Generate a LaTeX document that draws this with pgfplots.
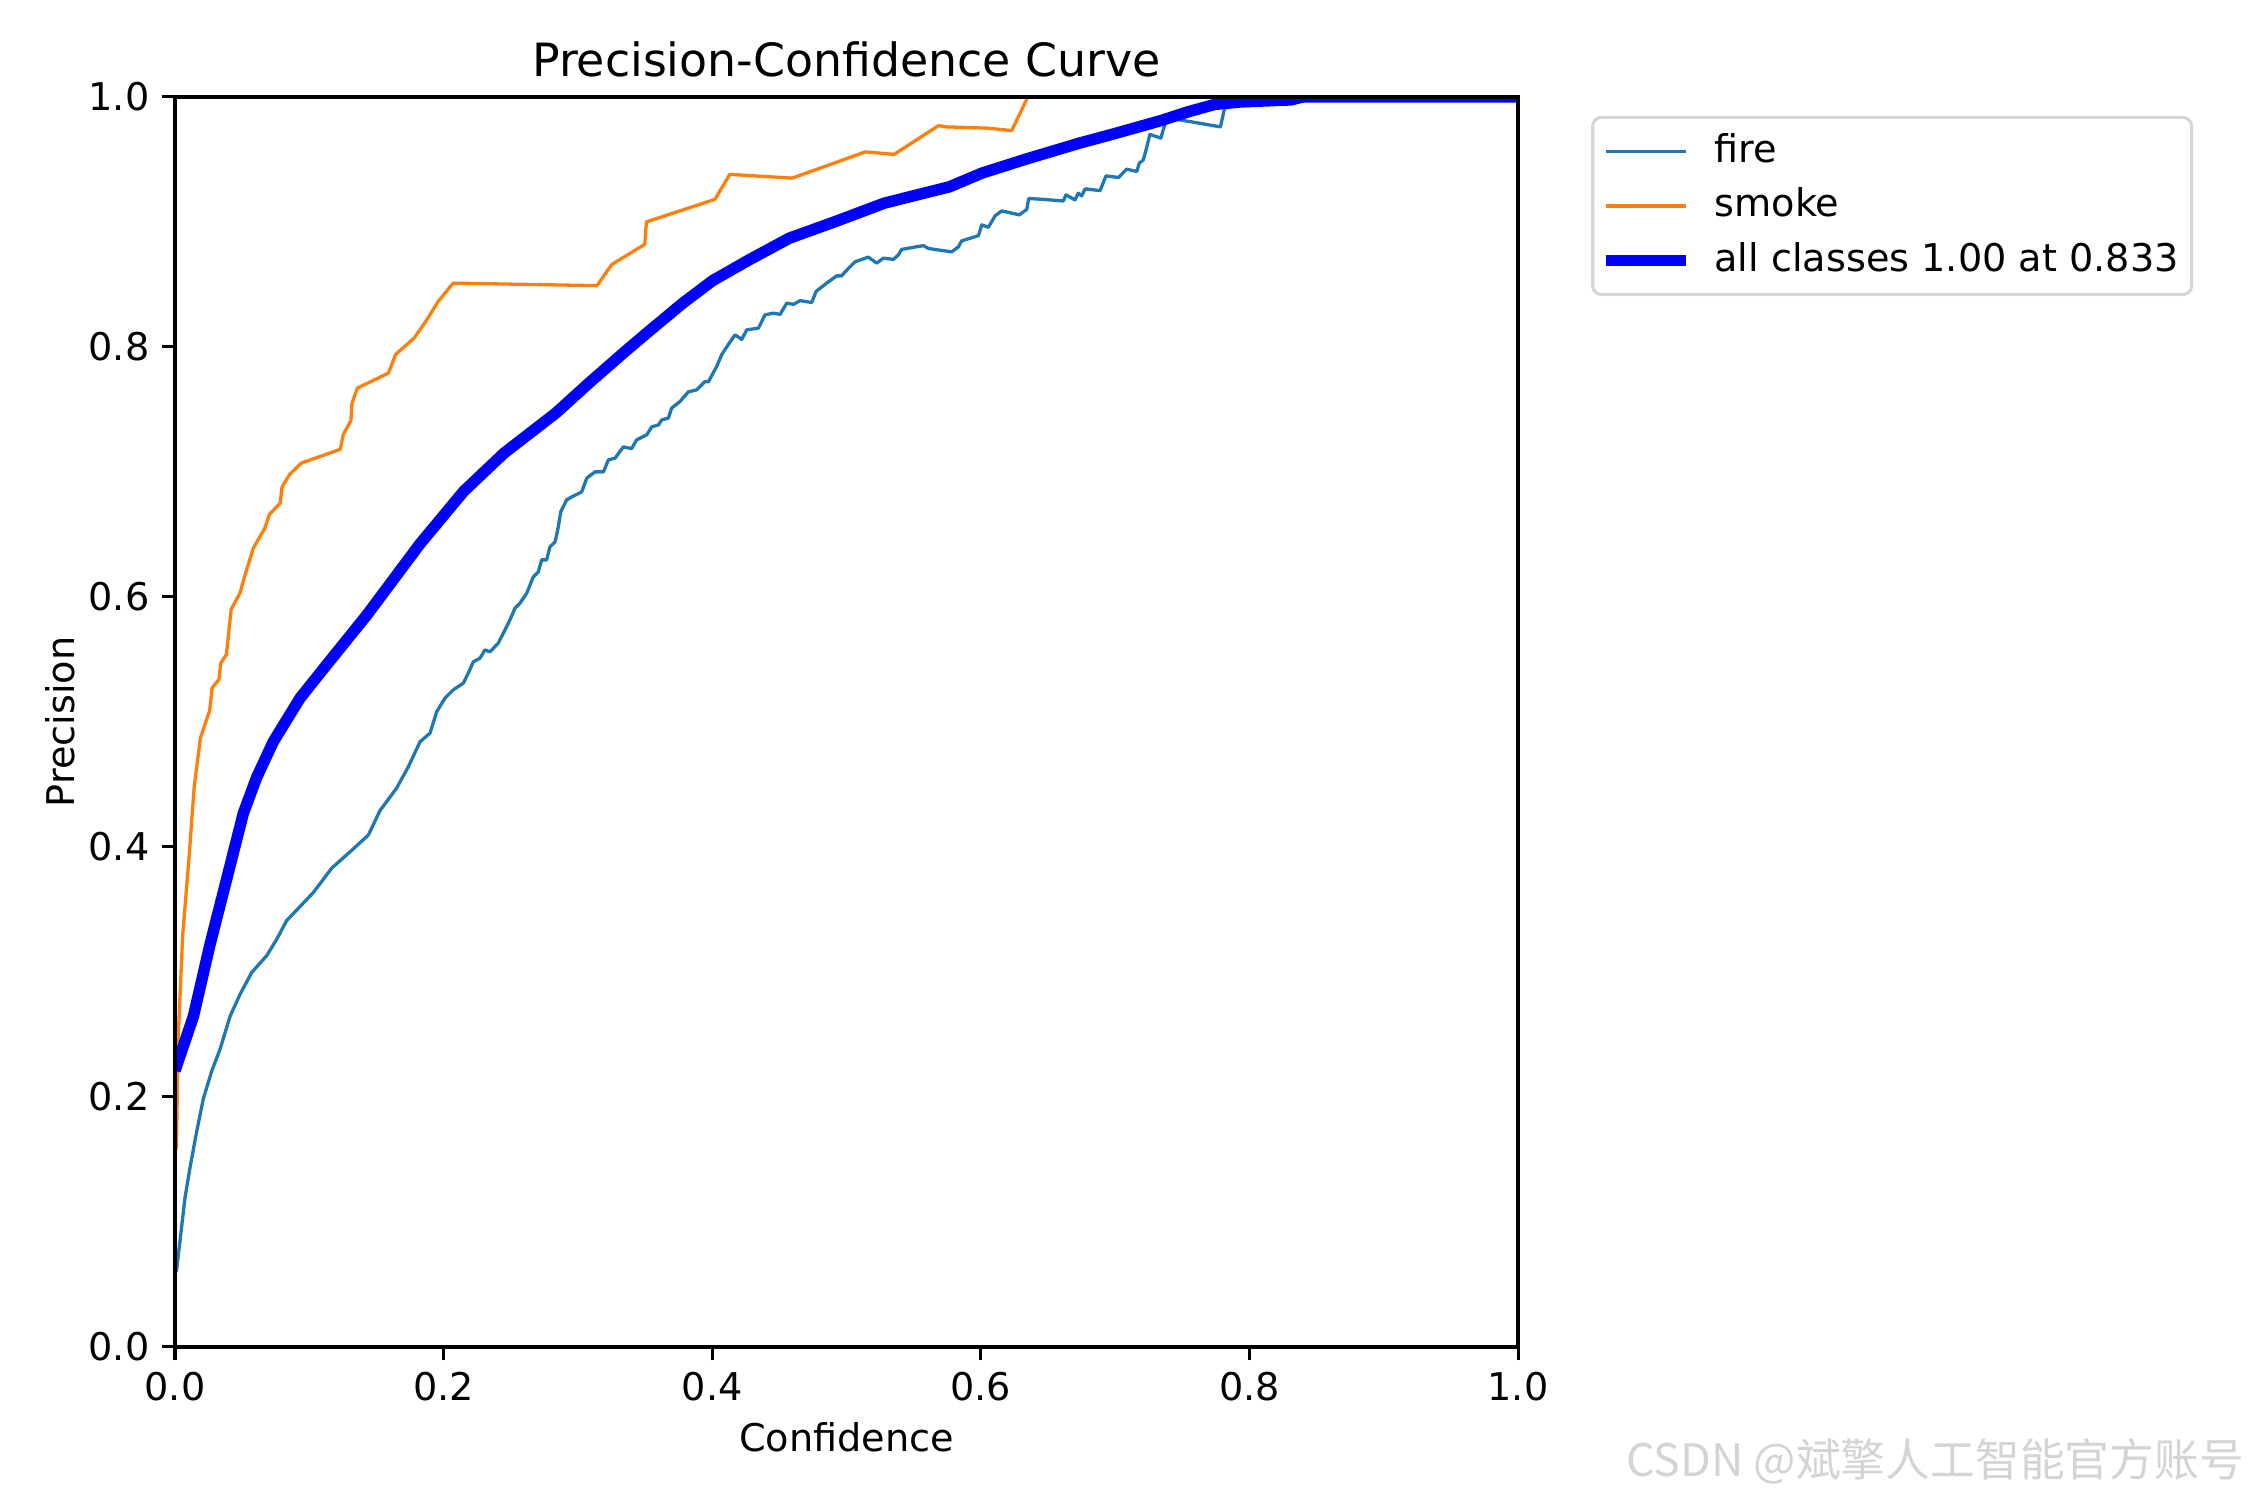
\documentclass[border=0pt]{standalone}
\usepackage{fontspec}
\setmainfont{DejaVu Sans}
\newfontfamily\cjk{Noto Sans CJK SC}
\usepackage{pgfplots}
\pgfplotsset{compat=1.18}
\definecolor{fireblue}{HTML}{1F77B4}
\definecolor{smokeorange}{HTML}{FF7F0E}
\definecolor{allblue}{HTML}{0000FF}
\begin{document}
\begin{tikzpicture}
\path[use as bounding box] (0,0) rectangle (648pt,432pt);
\begin{axis}[
  at={(50.4pt,44.1pt)}, anchor=south west,
  scale only axis, width=386.8pt, height=360pt,
  xmin=0, xmax=1, ymin=0, ymax=1,
  xtick={0,0.2,0.4,0.6,0.8,1.0},
  ytick={0,0.2,0.4,0.6,0.8,1.0},
  /pgf/number format/assume math mode=true,
  xticklabel={\pgfmathprintnumber[fixed,fixed zerofill,precision=1]{\tick}},
  yticklabel={\pgfmathprintnumber[fixed,fixed zerofill,precision=1]{\tick}},
  tick label style={font=\fontsize{11}{13}\selectfont},
  xtick pos=lower, ytick pos=lower,
  tick align=outside,
  major tick length=3.85pt,
  every tick/.style={black, line width=0.9pt},
  axis line style={line width=0.95pt},
  axis on top,
  title={Precision-Confidence Curve},
  title style={font=\fontsize{13.2}{15}\selectfont, at={(axis description cs:0.5,1.0)}, anchor=base},
  xlabel={Confidence},
  xlabel style={font=\fontsize{11}{13}\selectfont, at={(axis description cs:0.5,-0.0833)}, anchor=base},
  ylabel={Precision},
  ylabel style={font=\fontsize{11}{13}\selectfont, at={(axis description cs:-0.0745,0.5)}, anchor=base, rotate=0},
  legend cell align=left,
  legend style={at={(1.0544,0.9848)}, anchor=north west, draw=black!16, line width=0.9pt,
    rounded corners=2.5pt, fill=white, font=\fontsize{11}{13}\selectfont,
    inner xsep=2.2pt, inner ysep=3.5pt, row sep=3.1pt, column sep=6.6pt,
    nodes={inner xsep=0pt, inner ysep=1pt, text height=8.4pt, text depth=2.2pt}},
  legend image code/.code={\draw[#1] (0pt,0pt) -- (23pt,0pt);},
]
\addplot[fireblue, line width=0.95pt, line join=round] coordinates {
(0.001,0.06) (0.0042,0.089) (0.0074,0.119) (0.0112,0.1435) (0.0161,0.172)
(0.0211,0.1985) (0.0273,0.2205) (0.0335,0.238) (0.041,0.2645) (0.0484,0.282)
(0.0571,0.2995) (0.0683,0.313) (0.0757,0.326) (0.0831,0.341) (0.0955,0.355)
(0.103,0.3635) (0.1167,0.383) (0.1303,0.396) (0.144,0.4095) (0.1526,0.429)
(0.165,0.447) (0.1737,0.464) (0.1824,0.484) (0.1899,0.491) (0.1948,0.508)
(0.2010,0.519) (0.2072,0.5256) (0.2147,0.531) (0.2184,0.539) (0.2221,0.548)
(0.2271,0.551) (0.2308,0.5576) (0.2345,0.556) (0.2407,0.563) (0.2445,0.571)
(0.2494,0.5816) (0.2532,0.591) (0.2569,0.595) (0.2619,0.603) (0.2668,0.616)
(0.2705,0.620) (0.273,0.6296) (0.2767,0.6296) (0.2792,0.640) (0.283,0.644)
(0.2854,0.656) (0.2872,0.668) (0.2916,0.6776) (0.2954,0.680) (0.3028,0.684)
(0.3066,0.695) (0.3127,0.700) (0.3190,0.700) (0.3227,0.7096) (0.3277,0.711)
(0.3338,0.720) (0.34,0.7186) (0.3437,0.7256) (0.3512,0.7296) (0.355,0.736)
(0.36,0.7376) (0.3624,0.7416) (0.3673,0.743) (0.3698,0.751) (0.376,0.7563)
(0.3822,0.764) (0.3884,0.7656) (0.3946,0.7723) (0.3971,0.772) (0.4033,0.7843)
(0.407,0.7936) (0.4108,0.800) (0.417,0.8096) (0.422,0.806) (0.4257,0.8136)
(0.4344,0.815) (0.4393,0.8256) (0.4455,0.827) (0.4505,0.826) (0.4555,0.835)
(0.4604,0.834) (0.4654,0.837) (0.4741,0.8355) (0.4773,0.8443) (0.4852,0.851)
(0.4927,0.8568) (0.4964,0.8568) (0.4989,0.860) (0.5063,0.868) (0.5162,0.8718)
(0.5225,0.867) (0.5274,0.871) (0.5349,0.870) (0.5386,0.8736) (0.5411,0.878)
(0.5572,0.881) (0.561,0.8787) (0.5783,0.876) (0.5833,0.880) (0.5857,0.8848)
(0.5982,0.889) (0.6007,0.8976) (0.6056,0.8957) (0.6106,0.9048) (0.6155,0.9088)
(0.6287,0.9056) (0.6342,0.910) (0.6356,0.9187) (0.6466,0.918) (0.6614,0.9167)
(0.6634,0.9216) (0.6701,0.9176) (0.6726,0.923) (0.6751,0.9208) (0.6776,0.9264)
(0.6888,0.925) (0.6932,0.9368) (0.7025,0.9355) (0.7086,0.9422) (0.7161,0.9403)
(0.718,0.947) (0.721,0.9496) (0.723,0.9576) (0.7259,0.970) (0.734,0.967)
(0.738,0.9816) (0.7461,0.982) (0.7784,0.976) (0.7823,0.995) (0.79,1.0)
(1.0,1.0)
};
\addlegendentry{fire}
\addplot[smokeorange, line width=0.95pt, line join=round] coordinates {
(0.001,0.158) (0.0025,0.25) (0.0057,0.329) (0.0107,0.395) (0.0143,0.448)
(0.0189,0.487) (0.0258,0.509) (0.0276,0.527) (0.0327,0.534) (0.0341,0.547)
(0.0383,0.554) (0.0418,0.590) (0.0484,0.603) (0.0512,0.614) (0.0583,0.639)
(0.0669,0.655) (0.0703,0.666) (0.0783,0.675) (0.0797,0.688) (0.0854,0.698)
(0.0940,0.707) (0.1230,0.718) (0.1253,0.730) (0.1310,0.741) (0.1318,0.755)
(0.1358,0.767) (0.1589,0.779) (0.1643,0.794) (0.1780,0.807) (0.1871,0.821)
(0.1957,0.836) (0.2071,0.851) (0.3142,0.849) (0.3253,0.866) (0.3498,0.882)
(0.3510,0.900) (0.4020,0.918) (0.4131,0.938) (0.4595,0.935) (0.514,0.956)
(0.5354,0.954) (0.5685,0.977) (0.5745,0.976) (0.6049,0.975) (0.623,0.973)
(0.635,1.0) (1.0,1.0)
};
\addlegendentry{smoke}
\addplot[allblue, line width=3.3pt, line join=round] coordinates {
(0.0,0.221) (0.0137,0.2644) (0.026,0.3216) (0.0385,0.3744)
(0.0509,0.427) (0.0608,0.4556) (0.0732,0.4842) (0.0931,0.519) (0.113,0.5458)
(0.1427,0.5853) (0.1824,0.6424) (0.215,0.6845) (0.245,0.715) (0.2835,0.747)
(0.309,0.7718) (0.3348,0.796) (0.3518,0.8115) (0.3775,0.8345) (0.4003,0.853)
(0.4281,0.870) (0.4575,0.887) (0.4918,0.9003) (0.5282,0.915) (0.5765,0.928)
(0.6008,0.939) (0.633,0.950) (0.6734,0.963) (0.6976,0.970) (0.734,0.981)
(0.7541,0.988) (0.7743,0.994) (0.7945,0.996) (0.8308,0.9976) (0.84,1.0)
(1.0,1.0)
};
\addlegendentry{all classes 1.00 at 0.833\hspace*{1.5pt}}
\end{axis}
\node[anchor=base east, text=black!17, inner sep=0pt, font=\cjk\fontsize{12.9}{14}\selectfont] at (646.5pt,6.8pt) {CSDN @斌擎人工智能官方账号};
\end{tikzpicture}
\end{document}
